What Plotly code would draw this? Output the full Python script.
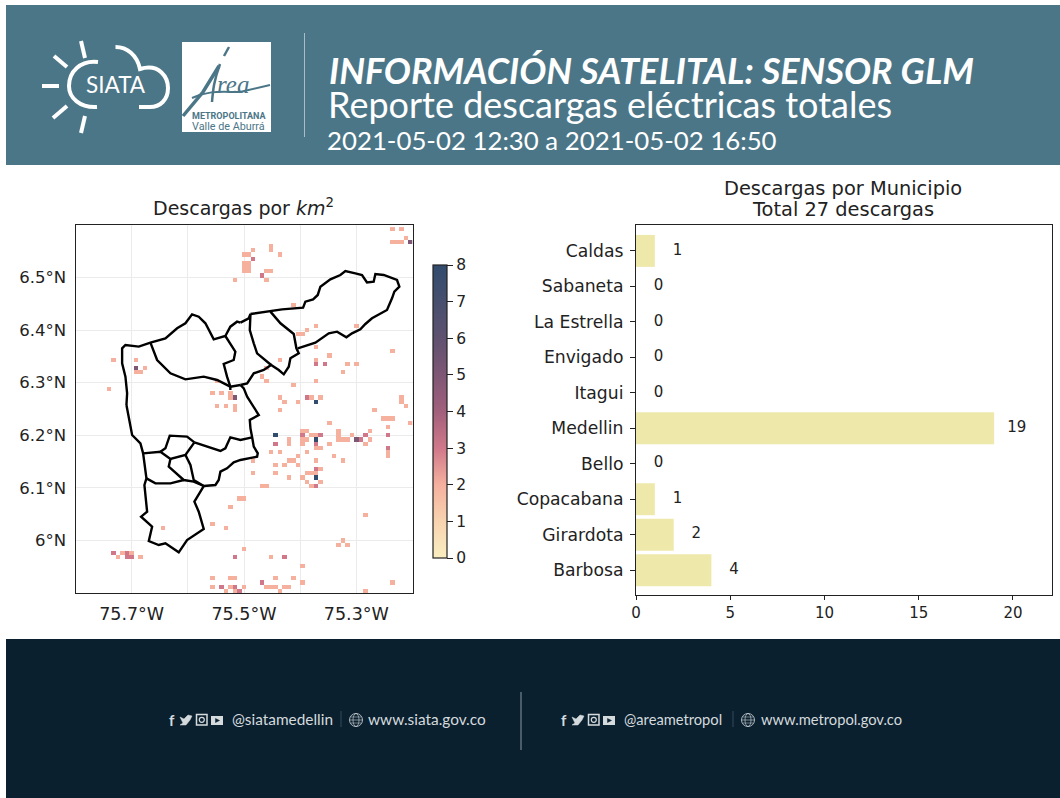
import plotly.graph_objects as go

W, H = 1060, 798
X = lambda x: x / W
Y = lambda y: 1 - y / H

# ---------- data ----------
municipios = ["Barbosa", "Girardota", "Copacabana", "Bello", "Medellin", "Itagui", "Envigado", "La Estrella", "Sabaneta", "Caldas"]
descargas = [4, 2, 1, 0, 19, 0, 0, 0, 0, 1]

density_ticks = [0, 1, 2, 3, 4, 5, 6, 7, 8]
lon_ticks = [-75.7, -75.5, -75.3]
lon_labels = ["75.7°W", "75.5°W", "75.3°W"]
lon_unlabelled_grid = [-75.6, -75.4]
lat_ticks = [6.0, 6.1, 6.2, 6.3, 6.4, 6.5]
lat_labels = ["6°N", "6.1°N", "6.2°N", "6.3°N", "6.4°N", "6.5°N"]

cells_level2 = [
    (-75.236, 6.592), (-75.220, 6.592), (-75.212, 6.576), (-75.236, 6.568), (-75.228, 6.568), (-75.220, 6.568),
    (-75.452, 6.560), (-75.484, 6.552), (-75.452, 6.552), (-75.500, 6.544), (-75.492, 6.544), (-75.436, 6.544),
    (-75.500, 6.528), (-75.492, 6.528), (-75.500, 6.520), (-75.492, 6.520), (-75.500, 6.512), (-75.492, 6.512),
    (-75.460, 6.512), (-75.452, 6.512), (-75.516, 6.496), (-75.460, 6.496), (-75.412, 6.448), (-75.372, 6.408),
    (-75.300, 6.408), (-75.388, 6.400), (-75.404, 6.392), (-75.396, 6.392), (-75.372, 6.368), (-75.236, 6.360),
    (-75.348, 6.352), (-75.732, 6.344), (-75.692, 6.344), (-75.436, 6.344), (-75.372, 6.344), (-75.316, 6.336),
    (-75.300, 6.336), (-75.676, 6.328), (-75.460, 6.328), (-75.692, 6.320), (-75.684, 6.320), (-75.324, 6.320),
    (-75.468, 6.312), (-75.548, 6.304), (-75.460, 6.304), (-75.372, 6.304), (-75.412, 6.296), (-75.740, 6.288),
    (-75.556, 6.280), (-75.540, 6.280), (-75.524, 6.280), (-75.524, 6.272), (-75.436, 6.272), (-75.380, 6.272),
    (-75.364, 6.272), (-75.220, 6.272), (-75.428, 6.264), (-75.404, 6.264), (-75.220, 6.264), (-75.548, 6.256),
    (-75.532, 6.256), (-75.516, 6.256), (-75.212, 6.256), (-75.516, 6.248), (-75.436, 6.248), (-75.268, 6.248),
    (-75.252, 6.232), (-75.244, 6.232), (-75.236, 6.232), (-75.348, 6.224), (-75.204, 6.224), (-75.244, 6.216),
    (-75.396, 6.208), (-75.388, 6.208), (-75.332, 6.208), (-75.276, 6.208), (-75.380, 6.200), (-75.372, 6.200),
    (-75.332, 6.200), (-75.308, 6.200), (-75.420, 6.192), (-75.396, 6.192), (-75.388, 6.192), (-75.332, 6.192),
    (-75.324, 6.192), (-75.316, 6.192), (-75.276, 6.192), (-75.420, 6.184), (-75.396, 6.184), (-75.348, 6.184),
    (-75.284, 6.184), (-75.372, 6.176), (-75.364, 6.176), (-75.452, 6.168), (-75.436, 6.168), (-75.388, 6.168),
    (-75.244, 6.168), (-75.404, 6.160), (-75.340, 6.160), (-75.244, 6.160), (-75.484, 6.152), (-75.420, 6.152),
    (-75.412, 6.152), (-75.372, 6.152), (-75.324, 6.152), (-75.444, 6.144), (-75.428, 6.144), (-75.404, 6.144),
    (-75.364, 6.136), (-75.484, 6.128), (-75.444, 6.128), (-75.388, 6.128), (-75.380, 6.128), (-75.372, 6.128),
    (-75.420, 6.120), (-75.396, 6.120), (-75.388, 6.112), (-75.364, 6.112), (-75.468, 6.104), (-75.460, 6.104),
    (-75.380, 6.104), (-75.508, 6.080), (-75.500, 6.080), (-75.524, 6.064), (-75.284, 6.048), (-75.556, 6.032),
    (-75.644, 6.024), (-75.532, 6.024), (-75.324, 6.000), (-75.332, 5.992), (-75.316, 5.992), (-75.500, 5.984),
    (-75.716, 5.976), (-75.700, 5.976), (-75.724, 5.968), (-75.684, 5.968), (-75.452, 5.968), (-75.396, 5.952),
    (-75.556, 5.928), (-75.524, 5.928), (-75.516, 5.928), (-75.444, 5.928), (-75.412, 5.928), (-75.396, 5.920),
    (-75.236, 5.920), (-75.556, 5.912), (-75.524, 5.912), (-75.500, 5.912), (-75.460, 5.912), (-75.452, 5.912),
    (-75.444, 5.912), (-75.428, 5.912), (-75.420, 5.912), (-75.532, 5.904), (-75.516, 5.904), (-75.436, 5.904),
    (-75.284, 5.904),
]
cells_level3 = [
    (-75.484, 6.536), (-75.468, 6.504), (-75.372, 6.336), (-75.356, 6.336), (-75.388, 6.272), (-75.396, 6.200),
    (-75.364, 6.200), (-75.284, 6.200), (-75.244, 6.200), (-75.292, 6.192), (-75.444, 6.184), (-75.372, 6.184),
    (-75.244, 6.176), (-75.372, 6.136), (-75.372, 6.104), (-75.732, 5.976), (-75.708, 5.976), (-75.708, 5.968),
    (-75.700, 5.968), (-75.516, 5.968), (-75.428, 5.968), (-75.468, 5.920), (-75.540, 5.912), (-75.516, 5.912),
    (-75.508, 5.904),
]
cells_level5 = [(-75.204, 6.568), (-75.692, 6.328), (-75.516, 6.272), (-75.300, 6.192)]
cells_level8 = [(-75.372, 6.264), (-75.444, 6.200), (-75.372, 6.192), (-75.372, 6.120)]

boundaries = [
    [(-75.4885, 6.4307), (-75.4529, 6.4364), (-75.4322, 6.4396), (-75.3948, 6.4428), (-75.3907, 6.4542), (-75.3770, 6.4586),
     (-75.3687, 6.4669), (-75.3640, 6.4827), (-75.3462, 6.4966), (-75.3284, 6.5049), (-75.3195, 6.5125), (-75.3017, 6.5081),
     (-75.2899, 6.5049), (-75.2810, 6.4909), (-75.2691, 6.4922), (-75.2661, 6.5068), (-75.2513, 6.5049), (-75.2276, 6.4954),
     (-75.2234, 6.4827), (-75.2323, 6.4732), (-75.2365, 6.4605), (-75.2454, 6.4383), (-75.2721, 6.4225), (-75.2839, 6.4117),
     (-75.2928, 6.4015), (-75.3077, 6.3939), (-75.3177, 6.3863), (-75.3343, 6.3971), (-75.3491, 6.3939), (-75.3729, 6.3762),
     (-75.4043, 6.3654)],
    [(-75.4529, 6.4352), (-75.4351, 6.4130), (-75.4114, 6.3927), (-75.4067, 6.3654), (-75.4025, 6.3559), (-75.4174, 6.3464),
     (-75.4203, 6.3305), (-75.4292, 6.3160), (-75.4381, 6.3242), (-75.4517, 6.3337), (-75.4648, 6.3242), (-75.4826, 6.3179),
     (-75.4944, 6.2988), (-75.5063, 6.2957)],
    [(-75.5063, 6.4142), (-75.4915, 6.4225), (-75.4885, 6.4307), (-75.4897, 6.4003), (-75.4826, 6.3749), (-75.4767, 6.3559),
     (-75.4517, 6.3337)],
    [(-75.5063, 6.2957), (-75.5004, 6.2893), (-75.4944, 6.2735), (-75.4796, 6.2481), (-75.4737, 6.2386), (-75.4897, 6.2291),
     (-75.4885, 6.2132), (-75.4855, 6.1961), (-75.4826, 6.1783), (-75.4755, 6.1657), (-75.4767, 6.1593), (-75.5063, 6.1530),
     (-75.5183, 6.1485), (-75.5302, 6.1371), (-75.5420, 6.1308), (-75.5450, 6.1149), (-75.5509, 6.1054), (-75.5717, 6.1035)],
    [(-75.4855, 6.1961), (-75.5063, 6.1910), (-75.5243, 6.1961), (-75.5332, 6.1752), (-75.5420, 6.1701), (-75.5806, 6.1847),
     (-75.5883, 6.1866)],
    [(-75.7093, 6.2576), (-75.7022, 6.2196), (-75.6992, 6.2005), (-75.6844, 6.1847), (-75.6796, 6.1657), (-75.6737, 6.1181),
     (-75.6773, 6.1054), (-75.6725, 6.0547), (-75.6832, 6.0452), (-75.6636, 6.0262), (-75.6695, 5.9989), (-75.6518, 5.9913),
     (-75.6399, 5.9945), (-75.6162, 5.9774), (-75.6014, 6.0008), (-75.5717, 6.0218), (-75.5806, 6.0547), (-75.5883, 6.0737),
     (-75.5717, 6.1035)],
    [(-75.6796, 6.1657), (-75.6488, 6.1688), (-75.6310, 6.1549), (-75.6043, 6.1625), (-75.5883, 6.1866)],
    [(-75.6488, 6.1688), (-75.6399, 6.1752), (-75.6322, 6.1993), (-75.6014, 6.1974), (-75.5883, 6.1866)],
    [(-75.6043, 6.1625), (-75.5954, 6.1435), (-75.5895, 6.1149), (-75.5717, 6.1035)],
    [(-75.6310, 6.1549), (-75.6340, 6.1403), (-75.6073, 6.1149), (-75.5895, 6.1118), (-75.5717, 6.1035)],
    [(-75.6737, 6.1181), (-75.6577, 6.1086), (-75.6310, 6.1086), (-75.6073, 6.1149)],
    [(-75.7093, 6.2576), (-75.7081, 6.2798), (-75.7111, 6.3115), (-75.7170, 6.3369), (-75.7170, 6.3654), (-75.7111, 6.3717),
     (-75.6873, 6.3686), (-75.6666, 6.3762), (-75.6399, 6.3844), (-75.6191, 6.4035), (-75.6043, 6.4130), (-75.5925, 6.4301),
     (-75.5806, 6.4256), (-75.5687, 6.4130), (-75.5539, 6.3825), (-75.5332, 6.3889), (-75.5243, 6.4066), (-75.5124, 6.4161),
     (-75.5063, 6.4142)],
    [(-75.6666, 6.3762), (-75.6547, 6.3432), (-75.6310, 6.3179), (-75.6043, 6.3064), (-75.5717, 6.3115), (-75.5480, 6.3052),
     (-75.5243, 6.2925), (-75.5063, 6.2957)],
    [(-75.5332, 6.3889), (-75.5154, 6.3591), (-75.5183, 6.3432), (-75.5361, 6.3356), (-75.5302, 6.3115), (-75.5243, 6.2925),
     (-75.5243, 6.2862)],
]

# ---------- styles ----------
BANNER = "#4b7687"
FOOTER = "#0a202f"
INK = "#222222"
MPL = "DejaVu Sans"
colorscale = [
    [0.0, "#f9eec0"], [0.125, "#f8d3b0"], [0.25, "#f5b09e"], [0.375, "#d0788a"],
    [0.5, "#a2607c"], [0.625, "#7e5775"], [0.75, "#5f5170"], [0.875, "#474f6e"], [1.0, "#324c6e"],
]

# ---------- density grid ----------
lon0, lat0, step = -75.796, 5.904, 0.008
n_cols, n_rows = 75, 87
grid = [[None] * n_cols for _ in range(n_rows)]
for level, cells in ((2, cells_level2), (3, cells_level3), (5, cells_level5), (8, cells_level8)):
    for lon, lat in cells:
        grid[round((lat - lat0) / step)][round((lon - lon0) / step)] = level

fig = go.Figure()
fig.add_trace(go.Heatmap(
    z=grid, x0=lon0, dx=step, y0=lat0, dy=step, zmin=0, zmax=8, colorscale=colorscale, hoverongaps=False,
    xaxis="x", yaxis="y",
    colorbar=dict(
        x=X(433), xanchor="left", xpad=0, ypad=0, y=Y(265), yanchor="top", len=293 / H, thickness=14,
        tickmode="array", tickvals=density_ticks, ticks="outside", ticklen=6, tickcolor=INK, tickwidth=1,
        tickfont=dict(family=MPL, size=15.5, color=INK), outlinecolor=INK, outlinewidth=1.2,
    ),
))
blon, blat = [], []
for seg in boundaries:
    blon += [p[0] for p in seg] + [None]
    blat += [p[1] for p in seg] + [None]
fig.add_trace(go.Scatter(x=blon, y=blat, mode="lines", line=dict(color="#000000", width=2.4), xaxis="x", yaxis="y",
                         hoverinfo="skip", showlegend=False))

fig.add_trace(go.Bar(y=municipios, x=descargas, orientation="h", width=0.9, marker=dict(color="#eee8aa", line=dict(width=0)),
                     xaxis="x2", yaxis="y2", showlegend=False))
fig.add_trace(go.Scatter(y=municipios, x=[v + 1.2 for v in descargas], mode="text", text=[str(v) for v in descargas],
                         textposition="middle center", textfont=dict(family=MPL, size=15, color=INK),
                         xaxis="x2", yaxis="y2", hoverinfo="skip", showlegend=False))

shapes, ann = [], []


def rect(x0, y0, x1, y1, color):
    shapes.append(dict(type="rect", xref="paper", yref="paper", x0=X(x0), x1=X(x1), y0=Y(y0), y1=Y(y1),
                       fillcolor=color, line=dict(width=0), layer="below"))


def path(cmds, color, width=1.0, fill=None):
    parts = []
    for c in cmds:
        if isinstance(c, str):
            parts.append(c)
        else:
            parts.append(f"{X(c[0]):.5f},{Y(c[1]):.5f}")
    s = dict(type="path", xref="paper", yref="paper", path=" ".join(parts), layer="above",
             line=dict(color=color, width=width))
    if fill:
        s["fillcolor"] = fill
    shapes.append(s)


def circle(cx, cy, rx, ry, color, width=1.0, fill=None):
    s = dict(type="circle", xref="paper", yref="paper", x0=X(cx - rx), x1=X(cx + rx), y0=Y(cy + ry), y1=Y(cy - ry),
             line=dict(color=color, width=width), layer="above")
    if fill:
        s["fillcolor"] = fill
    shapes.append(s)


def text(x, y, s, size, color=INK, family="Lato", anchor="center"):
    ann.append(dict(xref="paper", yref="paper", x=X(x), y=Y(y), text=s, showarrow=False, xanchor=anchor, yanchor="middle",
                    font=dict(family=family, size=size, color=color), borderpad=0, borderwidth=0))


# banner + footer
rect(6, 5, 1060, 165, BANNER)
rect(6, 639, 1060, 798, FOOTER)
path(["M", (304.5, 33), "L", (304.5, 137)], "#a9bfc8", 1)

# SIATA logo
for a, b in [((42, 86), (59, 86)), ((54, 56), (67, 67)), ((81, 41), (85, 58)), ((53, 118), (67, 106)), ((85, 116), (81, 133))]:
    path(["M", a, "L", b], "#ffffff", 4)
path(["M", (98, 62), "C", (80, 60), (69, 72), (69, 86), "C", (69, 98), (80, 108), (97, 107)], "#ffffff", 4)
path(["M", (115.5, 47), "C", (127, 47), (137, 55), (140, 69), "C", (160, 63), (168, 78), (168, 88), "C", (168, 100), (160, 107), (150, 107), "L", (139, 107)], "#ffffff", 4)
text(116, 85, "SIATA", 22.5, "#ffffff", "Lato")

# Area Metropolitana logo
rect(182, 42, 271, 132, "#ffffff")
path(["M", (183, 116), "L", (203, 92), "L", (219, 66)], BANNER, 3.5)
path(["M", (224, 56), "L", (229, 47)], BANNER, 2.5)
path(["M", (220, 64), "C", (214, 80), (213, 90), (212, 102)], BANNER, 2.5)
path(["M", (192, 98), "C", (210, 90), (220, 92), (240, 92), "L", (270, 85)], BANNER, 2)
text(233, 85, "<i>rea</i>", 25, BANNER, "Liberation Serif")
text(229, 115.5, "<b>METROPOLITANA</b>", 9, BANNER, "Roboto")
text(228, 126, "Valle de Aburrá", 10.8, BANNER, "Roboto")

# banner titles
text(329, 70, "<b><i>INFORMACIÓN SATELITAL: SENSOR GLM</i></b>", 36, "#ffffff", "Lato", "left")
text(328, 104, "Reporte descargas eléctricas totales", 36, "#ffffff", "Lato", "left")
text(327, 140, "2021-05-02 12:30 a 2021-05-02 16:50", 25.8, "#ffffff", "Lato", "left")

# chart titles
text(243, 207, "Descargas por <i>km</i><sup>2</sup>", 19, INK, MPL)
text(843, 188.5, "Descargas por Municipio", 19.4, INK, MPL)
text(843, 209.5, "Total 27 descargas", 19.4, INK, MPL)

# footer
path(["M", (521, 692), "L", (521, 750)], "#8b98a2", 1)
FG = "#d5dadd"


def social(dx, handle, hx, url, ux, sep, globe, size):
    text(172 + dx, 720, "<b>f</b>", 15, FG, "Lato")
    path(["M", (180 + dx, 717), "L", (184 + dx, 719), "L", (188 + dx, 715), "L", (192 + dx, 716), "L", (190 + dx, 720),
          "L", (186 + dx, 725), "L", (180 + dx, 725), "L", (183 + dx, 723), "Z"], FG, 0.5, FG)
    shapes.append(dict(type="rect", xref="paper", yref="paper", x0=X(196.5 + dx), x1=X(207 + dx), y0=Y(725), y1=Y(714.5),
                       line=dict(color=FG, width=1.5), layer="above"))
    circle(201.8 + dx, 719.8, 2.5, 2.5, FG, 1.2)
    shapes.append(dict(type="rect", xref="paper", yref="paper", x0=X(211 + dx), x1=X(223 + dx), y0=Y(725), y1=Y(716),
                       line=dict(width=0), fillcolor=FG, layer="above"))
    path(["M", (215.5 + dx, 718.5), "L", (219.5 + dx, 720.5), "L", (215.5 + dx, 722.5), "Z"], FOOTER, 0.5, FOOTER)
    text(hx, 719, handle, size, FG, "Lato", "left")
    path(["M", (sep, 711), "L", (sep, 727)], "#34495a", 1)
    circle(globe, 720, 6.5, 6.5, FG, 0.8)
    circle(globe, 720, 3, 6.5, FG, 0.6)
    path(["M", (globe - 6.5, 720), "L", (globe + 6.5, 720)], FG, 0.6)
    path(["M", (globe - 5.5, 717), "L", (globe + 5.5, 717)], FG, 0.5)
    path(["M", (globe - 5.5, 723), "L", (globe + 5.5, 723)], FG, 0.5)
    text(ux, 719, url, size, FG, "Lato", "left")


social(0, "@siatamedellin", 232, "www.siata.gov.co", 368, 341, 356, 15.4)
social(392, "@areametropol", 624, "www.metropol.gov.co", 761, 733, 748, 14.7)

map_axis = dict(showgrid=True, gridcolor="#ebebeb", gridwidth=1.3, zeroline=False, showline=True, linecolor=INK, linewidth=1.3,
                mirror=True, ticks="outside", ticklen=5, tickcolor="rgba(0,0,0,0)", tickmode="array")
fig.update_layout(
    width=W, height=H, margin=dict(l=0, r=0, t=0, b=0, autoexpand=False), paper_bgcolor="#ffffff", plot_bgcolor="#ffffff",
    showlegend=False, shapes=shapes, annotations=ann,
    xaxis=dict(domain=[X(75.5), X(412.5)], range=[-75.8, -75.2], tickvals=lon_ticks, ticktext=lon_labels, anchor="y",
               minor=dict(tickmode="array", tickvals=lon_unlabelled_grid, showgrid=True, gridcolor="#ebebeb", gridwidth=1.3, ticks=""),
               tickfont=dict(family=MPL, size=17.5, color=INK), **map_axis),
    yaxis=dict(domain=[Y(593), Y(225)], range=[5.9, 6.6], tickvals=lat_ticks, ticktext=lat_labels, anchor="x",
               tickfont=dict(family=MPL, size=16.5, color=INK), **map_axis),
    xaxis2=dict(domain=[X(636), X(1052)], range=[0, 22.07], tickmode="array", tickvals=[0, 5, 10, 15, 20], anchor="y2",
                showgrid=False, zeroline=False, showline=True, linecolor=INK, linewidth=1.2, mirror=True, ticks="outside",
                ticklen=4, tickcolor=INK, tickfont=dict(family=MPL, size=15, color=INK)),
    yaxis2=dict(domain=[Y(595), Y(225)], range=[-0.7, 9.73], type="category", categoryorder="array", categoryarray=municipios,
                anchor="x2", showgrid=False, zeroline=False, showline=True, linecolor=INK, linewidth=1.2, mirror=True,
                ticks="outside", ticklen=5, ticklabelstandoff=3, tickcolor=INK, tickfont=dict(family=MPL, size=17.2, color=INK)),
)
fig.write_html("out.html", config=dict(displayModeBar=False), post_script="document.body.style.margin='0';")
